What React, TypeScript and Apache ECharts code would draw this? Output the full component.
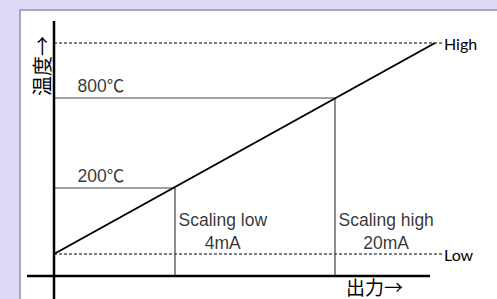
import React, { useEffect, useRef } from "react";
import * as echarts from "echarts";

// Abstract plot units: x = output, y = temperature
const levelLabels = ["Low", "High"];
const levelY = [11, 116.5];
const levelEndX = [97.25, 97.25];
const lineX = [0, 95.25];
const lineY = [11, 116.5];
const tempLabels = ["200℃", "800℃"];
const tempY = [44, 89];
const scalingNames = ["Scaling low", "Scaling high"];
const scalingCurrents = ["4mA", "20mA"];
const scalingX = [30.25, 70.25];
const xAxisExtent = [-6.75, 94];
const yAxisExtent = [-11.5, 127.5];

const LATIN = "'Liberation Sans', 'Noto Sans CJK JP', sans-serif";
const CJK = "'Noto Sans CJK JP', sans-serif";

export default function App() {
  const ref = useRef<HTMLDivElement>(null);
  useEffect(() => {
    if (!ref.current) return;
    const chart = echarts.init(ref.current, undefined, { renderer: "svg" });
    const series: any[] = [];
    // axes
    series.push({
      type: "line",
      symbol: "none",
      silent: true,
      data: xAxisExtent.map((x) => [x, 0]),
      lineStyle: { color: "#000", width: 2.5 },
      z: 5,
    });
    series.push({
      type: "line",
      symbol: "none",
      silent: true,
      data: yAxisExtent.map((y) => [0, y]),
      lineStyle: { color: "#000", width: 2.5 },
      z: 5,
    });
    // dashed levels
    levelY.forEach((y, i) => {
      series.push({
        type: "line",
        symbol: "none",
        silent: true,
        data: [
          [0, y],
          [levelEndX[i], y],
        ],
        lineStyle: { color: "#000", width: 1, type: [3, 2] },
        endLabel: {
          show: true,
          formatter: levelLabels[i],
          fontFamily: "Lato, sans-serif",
          fontSize: 16,
          color: "#000",
          distance: 1,
        },
      });
    });
    // temperature / scaling guide lines
    tempY.forEach((y, i) => {
      series.push({
        type: "line",
        symbol: "none",
        silent: true,
        data: [
          [0, y],
          [scalingX[i], y],
          [scalingX[i], 0],
        ],
        lineStyle: { color: "#444", width: 1.2 },
      });
    });
    // diagonal
    series.push({
      type: "line",
      symbol: "none",
      silent: true,
      data: lineX.map((x, i) => [x, lineY[i]]),
      lineStyle: { color: "#000", width: 2 },
      z: 4,
    });
    // temperature labels
    series.push({
      type: "scatter",
      silent: true,
      symbolSize: 1,
      itemStyle: { color: "transparent" },
      data: tempY.map((y, i) => ({ value: [0, y], name: tempLabels[i] })),
      label: {
        show: true,
        position: "right",
        distance: 0,
        offset: [23, -12],
        formatter: (p: any) => p.name,
        fontFamily: LATIN,
        fontSize: 17.5,
        color: "#000",
      },
    });
    // scaling labels
    series.push({
      type: "scatter",
      silent: true,
      symbolSize: 1,
      itemStyle: { color: "transparent" },
      data: scalingX.map((x, i) => ({
        value: [x, 0],
        name: `{a|${scalingNames[i]}}\n{a|${scalingCurrents[i]}}`,
      })),
      label: {
        show: true,
        position: "right",
        distance: 0,
        offset: [3, -45],
        formatter: (p: any) => p.name,
        rich: {
          a: {
            align: "center",
            fontFamily: LATIN,
            fontSize: 17.5,
            lineHeight: 23,
            color: "#000",
          },
        },
      },
    });

    chart.setOption({
      animation: false,
      backgroundColor: "#dcdaf4",
      grid: { left: 0, right: 0, top: 0, bottom: 0 },
      xAxis: { type: "value", min: -13.5, max: 110.75, show: false },
      yAxis: { type: "value", min: -11.5, max: 138, show: false },
      graphic: [
        {
          type: "rect",
          z: -10,
          silent: true,
          shape: { x: 20, y: 10, width: 490, height: 300 },
          style: { fill: "#fff", stroke: "#a9a9ba", lineWidth: 2 },
        },
        {
          type: "text",
          x: 41,
          y: 66,
          rotation: Math.PI / 2,
          style: {
            text: "温度→",
            fontFamily: CJK,
            fontSize: 20,
            fill: "#000",
            align: "center",
            verticalAlign: "middle",
          },
        },
        {
          type: "text",
          x: 346,
          y: 286.5,
          style: {
            text: "出力→",
            fontFamily: CJK,
            fontSize: 19,
            lineHeight: 19,
            fill: "#000",
            align: "left",
            verticalAlign: "middle",
          },
        },
      ],
      series,
    });
    return () => chart.dispose();
  }, []);
  return (
    <div
      ref={ref}
      style={{ position: "fixed", left: 0, top: 0, width: 497, height: 299 }}
    />
  );
}
